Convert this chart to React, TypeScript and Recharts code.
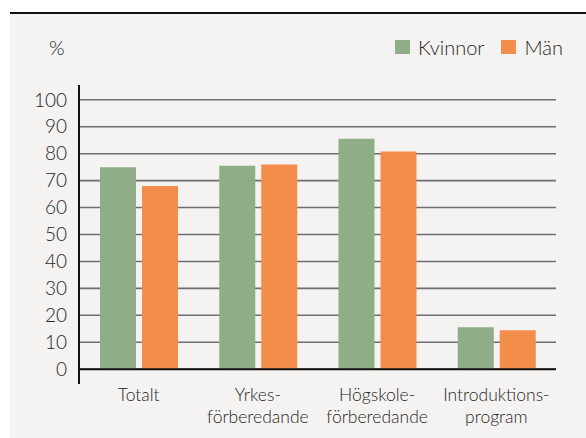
import { BarChart, Bar, XAxis, YAxis, CartesianGrid, ReferenceLine } from 'recharts';

const categories = ['Totalt', 'Yrkes-\nförberedande', 'Högskole-\nförberedande', 'Introduktions-\nprogram'];
const kvinnor = [75, 75.5, 85.5, 15.6];
const man = [68, 76, 80.8, 14.5];
const yTicks = [0, 10, 20, 30, 40, 50, 60, 70, 80, 90, 100];

const data = categories.map((name, i) => ({ name, kvinnor: kvinnor[i], man: man[i] }));

const GREEN = '#8fad86';
const ORANGE = '#f38d4c';
const FONT = 'Lato, "Open Sans", sans-serif';
const TEXT = '#262626';

const CategoryTick = ({ x, y, payload }: any) => {
  const lines = String(payload.value).split('\n');
  return (
    <text x={x} y={y} textAnchor="middle" fill={TEXT} fontSize={17.5} fontFamily={FONT} fontWeight={300}>
      {lines.map((l, i) => (
        <tspan key={i} x={x} y={y + 17 + i * 22}>{l}</tspan>
      ))}
    </text>
  );
};

const LegendBox = ({ color, label }: { color: string; label: string }) => (
  <div style={{ display: 'flex', alignItems: 'center', marginRight: 17 }}>
    <div style={{ width: 15, height: 14, background: color, marginRight: 8 }} />
    <span>{label}</span>
  </div>
);

const App = () => {
  return (
    <div style={{ position: 'absolute', left: 0, top: 0, width: 586, height: 438, background: '#fff', overflow: 'hidden', fontFamily: FONT }}>
      <div style={{ position: 'absolute', left: 10, top: 12, width: 576, height: 2, background: '#111' }} />
      <div style={{ position: 'absolute', left: 10, top: 14, width: 576, height: 424, background: '#f4f3f1' }} />
      <div style={{ position: 'absolute', left: 49, top: 35, fontSize: 20, fontWeight: 300, color: TEXT }}>%</div>
      <div style={{ position: 'absolute', left: 395, top: 35, display: 'flex', fontSize: 20, fontWeight: 300, color: TEXT }}>
        <LegendBox color={GREEN} label="Kvinnor" />
        <LegendBox color={ORANGE} label="Män" />
      </div>
      <div style={{ position: 'absolute', left: 0, top: 0 }}>
        <BarChart
          width={586}
          height={438}
          data={data}
          margin={{ top: 85, right: 30, bottom: 0, left: 0 }}
          barGap={6}
          barSize={36}
        >
          <CartesianGrid vertical={false} stroke="#6f6f6f" strokeWidth={1.6} horizontalValues={yTicks} />
          <XAxis
            dataKey="name"
            axisLine={false}
            tickLine={false}
            tickSize={0}
            tickMargin={0}
            height={54}
            interval={0}
            tick={<CategoryTick />}
          />
          <YAxis
            type="number"
            domain={[-5.5, 105.5]}
            ticks={yTicks}
            interval={0}
            width={79}
            tickLine={false}
            tickSize={0}
            tickMargin={12}
            axisLine={{ stroke: '#111', strokeWidth: 2 }}
            tick={{ fill: TEXT, fontSize: 19, fontFamily: FONT, fontWeight: 300 }}
          />
          <Bar dataKey="kvinnor" fill={GREEN} isAnimationActive={false} />
          <Bar dataKey="man" fill={ORANGE} isAnimationActive={false} />
          <ReferenceLine y={0} stroke="#111" strokeWidth={2} />
        </BarChart>
      </div>
    </div>
  );
};

export default App;
